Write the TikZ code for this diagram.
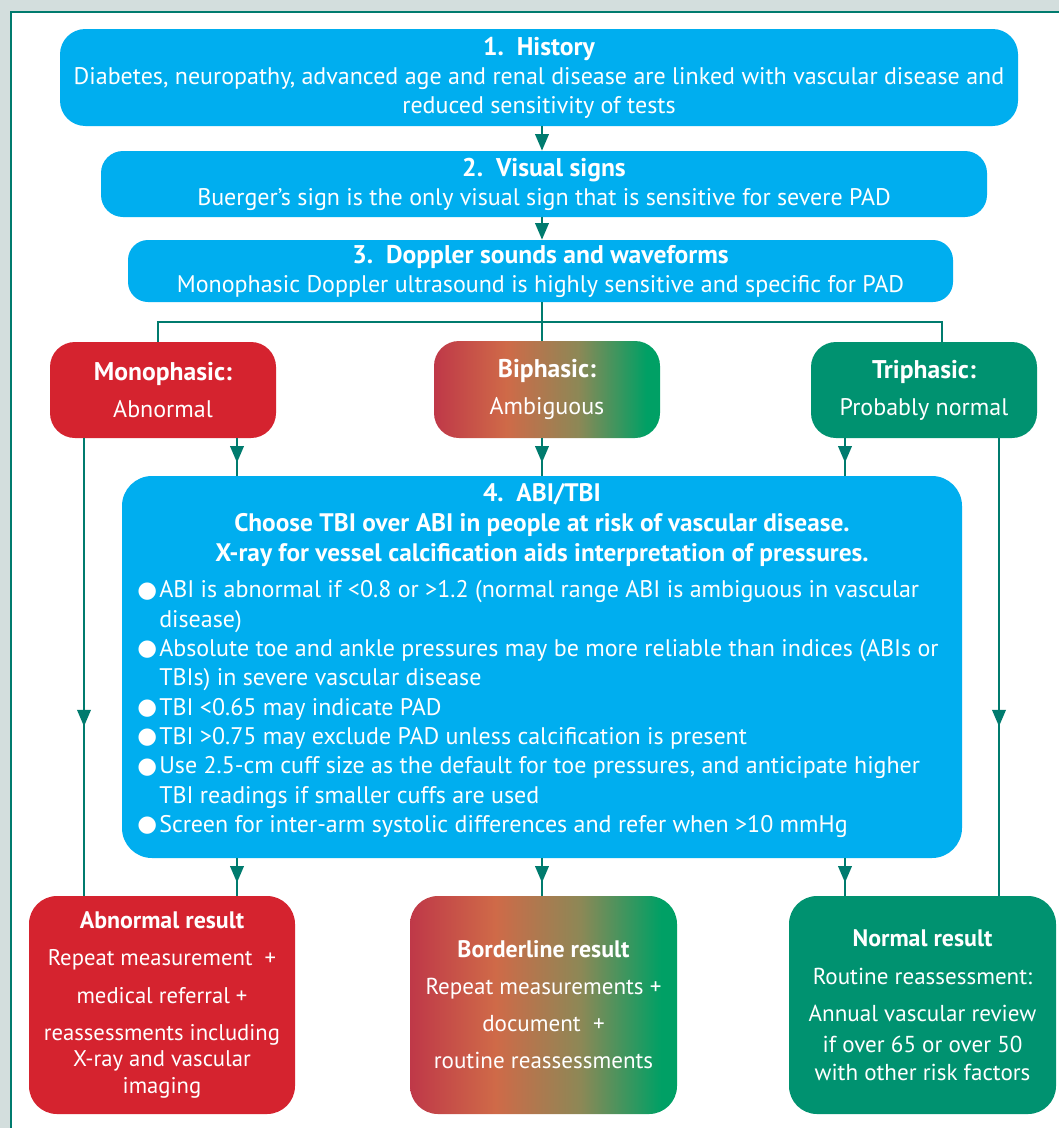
\documentclass[tikz,border=0pt]{standalone}
\usepackage{fontspec}
\setmainfont{PT Sans}
\newfontfamily\dejavu{DejaVu Sans}
\usetikzlibrary{arrows.meta,decorations.markings,calc}
\definecolor{bgray}{HTML}{D3DEDD}
\definecolor{cyanb}{HTML}{00AEEF}
\definecolor{redb}{HTML}{D5232F}
\definecolor{greenb}{HTML}{009270}
\definecolor{tealline}{HTML}{007B6E}
\definecolor{ga}{HTML}{BF3848}
\definecolor{gb}{HTML}{CF6A48}
\definecolor{gc}{HTML}{8C8856}
\definecolor{gd}{HTML}{00A065}
\pgfdeclarehorizontalshading{biph}{100bp}{color(0bp)=(ga); color(25bp)=(ga); color(41bp)=(gb); color(57bp)=(gc); color(72bp)=(gd); color(100bp)=(gd)}
\newcommand\bul{\makebox[16.5pt][l]{\raisebox{0.4pt}{\dejavu\fontsize{17}{17}\selectfont ●}}}
\newcommand\hang{\hspace*{16.5pt}}
\newcommand\tb[1]{{\bfseries\fontsize{19.2}{22}\selectfont #1}}
\newcommand\rb[1]{{\bfseries\fontsize{17.9}{22}\selectfont #1}}
\begin{document}
\begin{tikzpicture}[x=0.75pt,y=-0.75pt,
  box/.style={rounded corners=#1, inner sep=0pt, align=center, text=white, font=\fontsize{18}{21.75}\selectfont},
  box/.default=18pt,
  conn/.style={draw=tealline, line width=2pt},
  tiparr/.style={postaction={decorate}, decoration={markings, mark=at position -9.75pt with {\arrow{Triangle[width=10pt,length=12.5pt]}}}},
  midarr/.style={postaction={decorate}, decoration={markings, mark=at position 0.63 with {\arrow{Triangle[width=10pt,length=12.5pt]}}}},
  endarr/.style={-{Triangle[width=10pt,length=12.5pt]}}
]
\useasboundingbox (0,0) rectangle (1059,1128);
\fill[bgray] (0,0) rectangle (1059,1128);
\fill[white] (11,12) rectangle (1059,1128);
\draw[tealline, line width=1.1pt] (11,1128) -- (11,12) -- (1059,12);

% top boxes
\node[box=19pt, fill=cyanb, minimum width=718.5pt, minimum height=72.75pt] (b1) at (539,77.5)
  {\tb{1.\ \ History}\\Diabetes, neuropathy, advanced age and renal disease are linked with vascular disease and\\reduced sensitivity of tests};
\node[box=16.5pt, fill=cyanb, minimum width=664.5pt, minimum height=49.5pt] (b2) at (544,184)
  {\tb{2.\ \ Visual signs}\\Buerger’s sign is the only visual sign that is sensitive for severe PAD};
\node[box=15pt, fill=cyanb, minimum width=618.75pt, minimum height=46.5pt] (b3) at (540.5,271)
  {\tb{3.\ \ Doppler sounds and waveforms}\\Monophasic Doppler ultrasound is highly sensitive and specific for PAD};

% waveform boxes
\node[box=18.75pt, fill=redb, minimum width=169.5pt, minimum height=72pt] (mono) at (163,390)
  {\tb{Monophasic:}\\[6pt]Abnormal};
\node[box=18.75pt, shade, shading=biph, minimum width=169.5pt, minimum height=72.75pt] (bi) at (547,389.5)
  {\tb{Biphasic:}\\[6pt]Ambiguous};
\node[box=18.75pt, fill=greenb, minimum width=169.5pt, minimum height=72pt] (tri) at (924,390)
  {\tb{Triphasic:}\\[6pt]Probably normal};

% ABI/TBI box
\node[box=22.5pt, fill=cyanb, minimum width=630pt, minimum height=286.5pt] (b4) at (542,667) {};
\node[align=center, text=white, inner sep=0pt, font=\bfseries\fontsize{19}{22.5}\selectfont] (b4t) at (542,525)
  {4.\ \ ABI/TBI\\Choose TBI over ABI in people at risk of vascular disease.\\X-ray for vessel calcification aids interpretation of pressures.};
\node[anchor=west, align=left, text=white, inner sep=0pt, font=\fontsize{18}{22}\selectfont] (list) at (137,709)
  {\bul ABI is abnormal if <0.8 or >1.2 (normal range ABI is ambiguous in vascular\\
   \hang disease)\\
   \bul Absolute toe and ankle pressures may be more reliable than indices (ABIs or\\
   \hang TBIs) in severe vascular disease\\
   \bul TBI <0.65 may indicate PAD\\
   \bul TBI >0.75 may exclude PAD unless calcification is present\\
   \bul Use 2.5-cm cuff size as the default for toe pressures, and anticipate higher\\
   \hang TBI readings if smaller cuffs are used\\
   \bul Screen for inter-arm systolic differences and refer when >10 mmHg};

% result boxes
\node[box=21pt, fill=redb, minimum width=199.5pt, minimum height=163.5pt, font=\fontsize{17}{20.25}\selectfont] (abn) at (162,1005)
  {\rb{Abnormal result}\\[7.5pt]Repeat measurement\ \ +\\[8.25pt]medical referral +\\[7.5pt]reassessments including\\[-1pt]X-ray and vascular\\imaging};
\node[box=21pt, shade, shading=biph, minimum width=200.25pt, minimum height=163.5pt, font=\fontsize{17.3}{27.75}\selectfont] (bord) at (543.5,1005)
  {\rb{Borderline result}\\Repeat measurements +\\document\ \ +\\routine reassessments};
\node[box=21pt, fill=greenb, minimum width=200.25pt, minimum height=163.5pt, font=\fontsize{17.3}{21}\selectfont] (norm) at (922.5,1005)
  {\rb{Normal result}\\[7.5pt]Routine reassessment:\\[6.75pt]Annual vascular review\\[2.25pt]if over 65 or over 50\\with other risk factors};

% connectors
\coordinate (cx) at (542,0);
\coordinate (xl) at (237,0);
\coordinate (xr) at (845,0);
\coordinate (sl) at (84,0);
\coordinate (sr) at (999,0);
\coordinate (jl) at (158,322);
\coordinate (jr) at (942,322);

\draw[conn,endarr] (b1.south -| cx) -- (b2.north -| cx);
\draw[conn,endarr] (b2.south -| cx) -- (b3.north -| cx);
\draw[conn] (b3.south -| cx) -- (bi.north -| cx);
\draw[conn] (mono.north -| jl) -- (jl) -- (jr) -- (tri.north -| jr);

\draw[conn,tiparr] (mono.south -| xl) -- (b4.north -| xl);
\draw[conn,tiparr] (bi.south -| cx) -- (b4.north -| cx);
\draw[conn,tiparr] (tri.south -| xr) -- (b4.north -| xr);
\draw[conn,tiparr] (b4.south -| xl) -- (abn.north -| xl);
\draw[conn,tiparr] (b4.south -| cx) -- (bord.north -| cx);
\draw[conn,tiparr] (b4.south -| xr) -- (norm.north -| xr);
\draw[conn,midarr] (mono.south -| sl) -- (abn.north -| sl);
\draw[conn,midarr] (tri.south -| sr) -- (norm.north -| sr);
\end{tikzpicture}
\end{document}
